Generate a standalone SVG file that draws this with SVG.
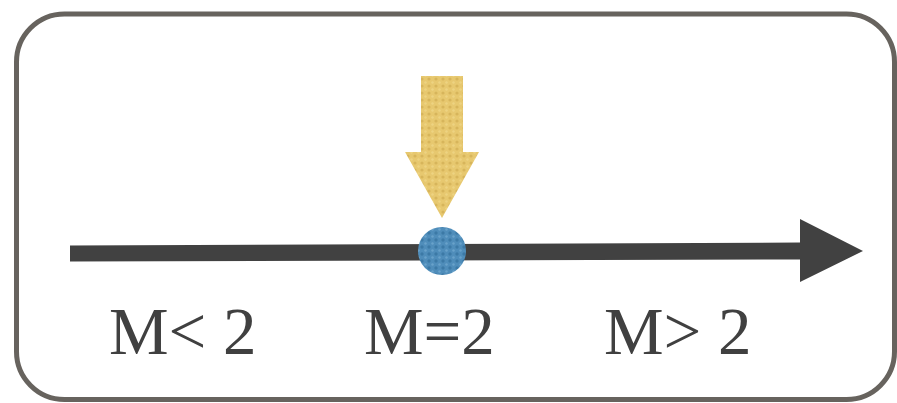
<svg xmlns="http://www.w3.org/2000/svg" width="897" height="403" viewBox="0 0 897 403">
<style>
.lbl{font-family:"Liberation Serif","Times New Roman",serif;font-size:67px;fill:#404040}
</style>
<defs>
<pattern id="texY" width="7" height="7" patternUnits="userSpaceOnUse">
<rect width="7" height="7" fill="#e7c86f"/>
<circle cx="2" cy="2" r="1.6" fill="#c9a64a" opacity="0.55"/>
<circle cx="5.5" cy="5.5" r="1.2" fill="#f2da90" opacity="0.6"/>
</pattern>
<pattern id="texB" width="7" height="7" patternUnits="userSpaceOnUse">
<rect width="7" height="7" fill="#4f8dba"/>
<circle cx="2" cy="2" r="1.7" fill="#2f6c99" opacity="0.6"/>
<circle cx="5.5" cy="5.5" r="1.2" fill="#7ab0d6" opacity="0.6"/>
</pattern>
</defs>
<g id="frame">
<rect x="16.5" y="14" width="878" height="385.5" rx="48" ry="48" fill="#ffffff" stroke="#67635e" stroke-width="5"/>
</g>
<g id="connectors">
<polygon id="axis" points="70,245.5 800,242.5 800,219 863,251 800,282 800,259.5 70,261.5" fill="#414141"/>
</g>
<g id="pointer">
<polygon points="421,76 463,76 463,152 479,152 442,218 405,152 421,152" fill="url(#texY)"/>
</g>
<g id="point">
<circle cx="442" cy="251" r="24" fill="url(#texB)"/>
</g>
<g id="labels">
<text class="lbl" x="109" y="354">M&lt; 2</text>
<text class="lbl" x="364" y="354">M=2</text>
<text class="lbl" x="604" y="354">M&gt; 2</text>
</g>
</svg>
